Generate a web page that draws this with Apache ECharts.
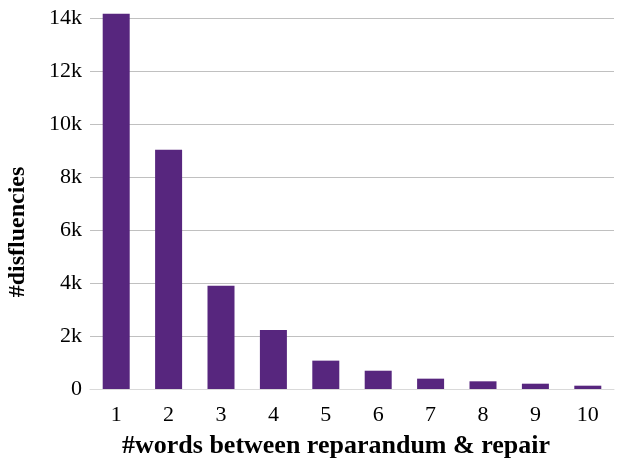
<!DOCTYPE html>
<html>
<head>
<meta charset="utf-8">
<script src="https://cdn.jsdelivr.net/npm/echarts@6/dist/echarts.min.js"></script>
<style>
html,body{margin:0;padding:0;background:#fff;}
#chart{width:627px;height:470px;}
</style>
</head>
<body>
<div id="chart"></div>
<script>
const categories = ['1','2','3','4','5','6','7','8','9','10'];
const disfluencies = [14160, 9030, 3900, 2230, 1070, 690, 390, 290, 200, 125];
const yTickLabels = ['0','2k','4k','6k','8k','10k','12k','14k'];
const xTitle = '#words between reparandum & repair';
const yTitle = '#disfluencies';

const FONT = '"Liberation Serif", "Times New Roman", serif';
const chart = echarts.init(document.getElementById('chart'), null, {renderer:'canvas'});
chart.setOption({
  animation: false,
  backgroundColor: '#ffffff',
  grid: {left: 90, right: 13, top: 18, bottom: 81},
  xAxis: {
    type: 'category',
    data: categories,
    boundaryGap: true,
    axisLine: {show: true, lineStyle: {color: '#d9d9d9', width: 1}},
    axisTick: {show: false},
    axisLabel: {color: '#000', fontFamily: FONT, fontSize: 22, margin: 15}
  },
  yAxis: {
    type: 'value',
    min: 0, max: 14000, interval: 2000,
    axisLine: {show: false},
    axisTick: {show: false},
    splitLine: {lineStyle: {color: '#c0c0c0', width: 1}},
    axisLabel: {
      color: '#000', fontFamily: FONT, fontSize: 22, margin: 8,
      formatter: function (v) { return yTickLabels[Math.round(v / 2000)]; }
    }
  },
  series: [{
    type: 'bar',
    data: disfluencies,
    barWidth: 27,
    clip: false,
    itemStyle: {color: '#57267E'}
  }],
  graphic: [
    {
      type: 'text', x: 336, y: 446,
      style: {text: xTitle, font: 'bold 26px ' + FONT, fill: '#000', align: 'center', verticalAlign: 'middle'}
    },
    {
      type: 'text', x: 18, y: 232, rotation: Math.PI / 2,
      style: {text: yTitle, font: 'bold 24px ' + FONT, fill: '#000', align: 'center', verticalAlign: 'middle'}
    }
  ]
});
</script>
</body>
</html>
